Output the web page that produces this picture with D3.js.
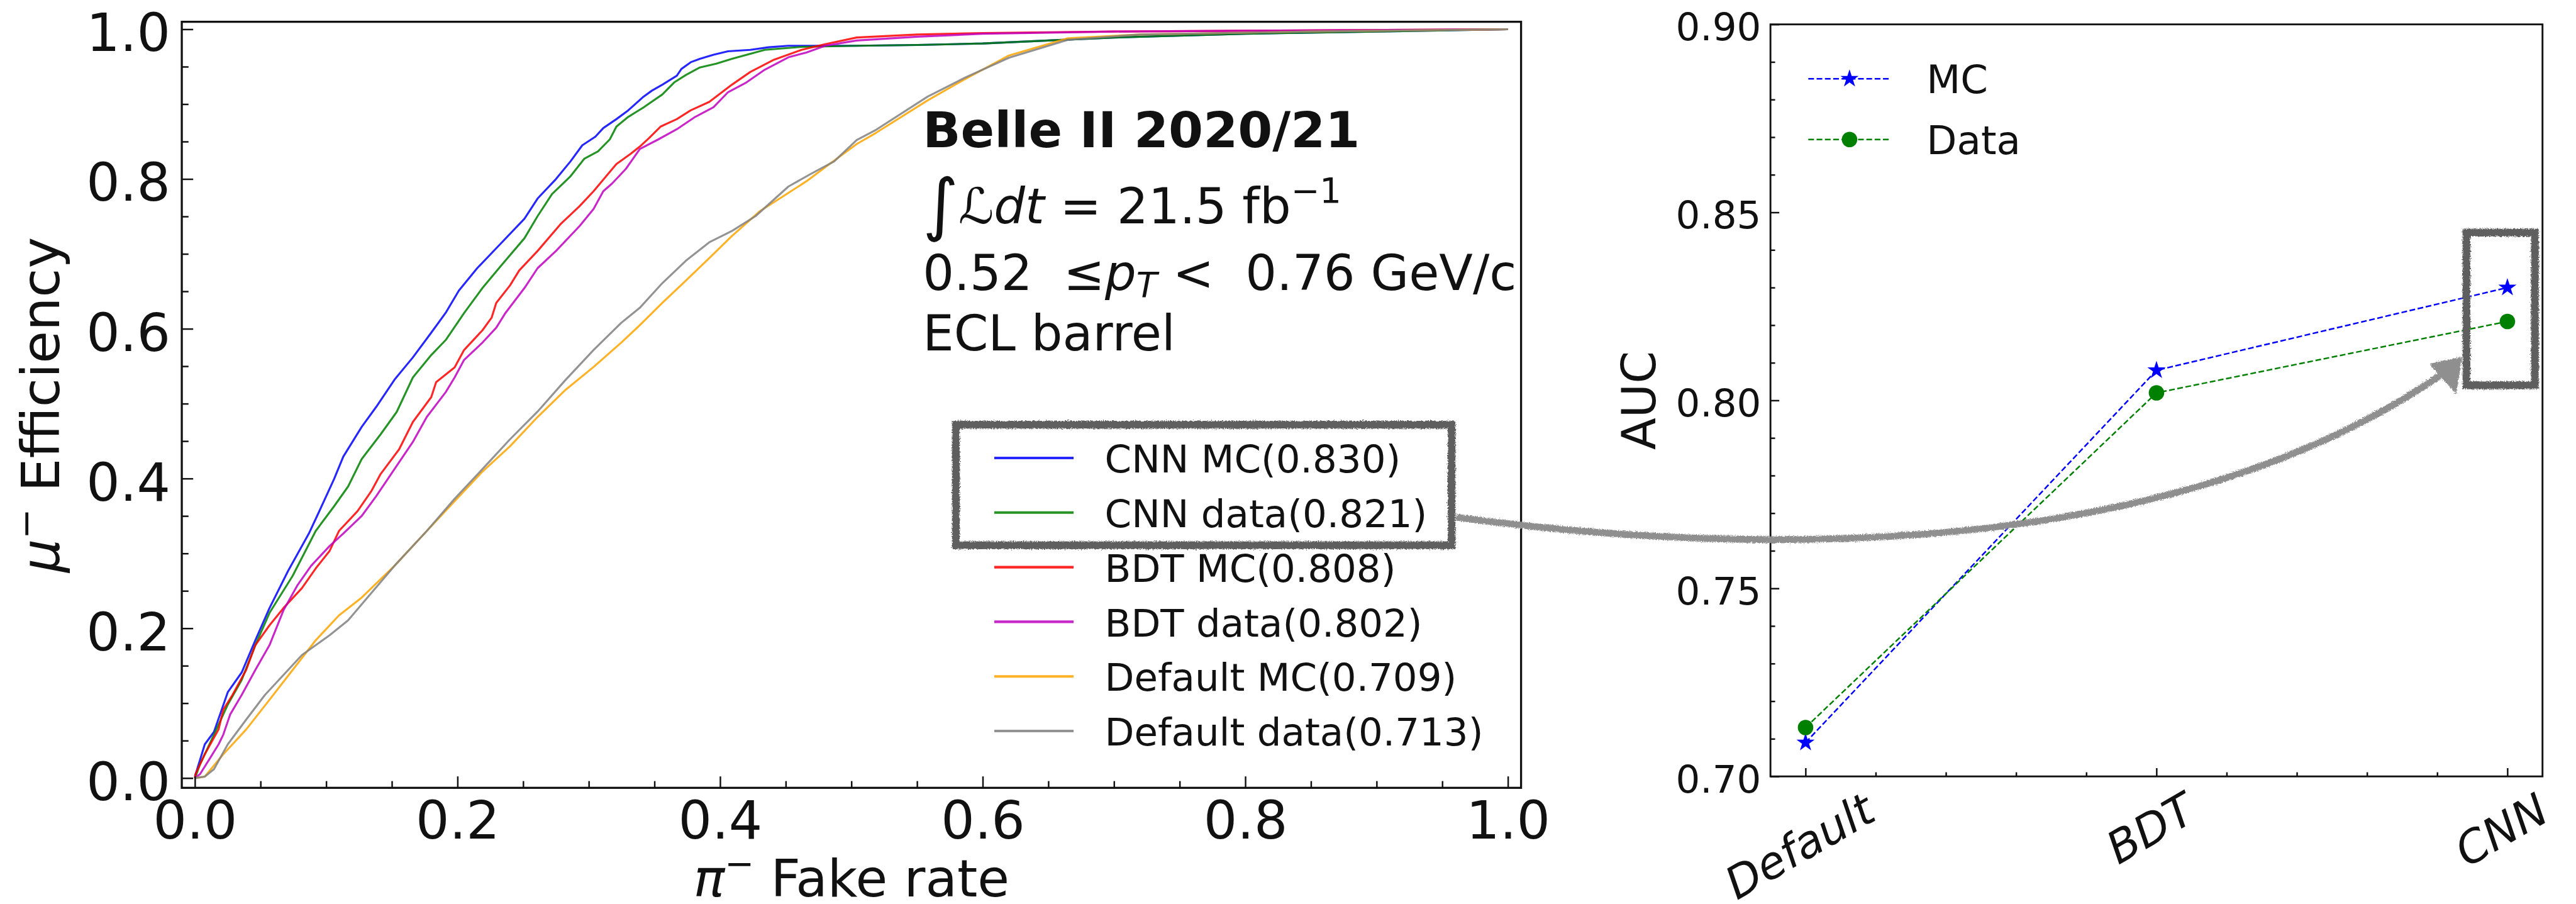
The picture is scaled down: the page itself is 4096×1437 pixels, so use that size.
<!DOCTYPE html>
<html>
<head>
<meta charset="utf-8">
<script src="https://cdn.jsdelivr.net/npm/d3@7"></script>
<style>
body{margin:0;background:#fff}
svg text{font-family:"DejaVu Sans",sans-serif;fill:#111}
</style>
</head>
<body>
<svg id="fig" width="4096" height="1437" viewBox="0 0 4967 1743"></svg>
<script>
// ROC curves (pi fake rate, mu efficiency)
const rocLabels = ["CNN MC(0.830)","CNN data(0.821)","BDT MC(0.808)","BDT data(0.802)","Default MC(0.709)","Default data(0.713)"];
const rocColors = ["#0000ff","#008000","#ff0000","#bf00bf","#ffa500","#808080"];

const cnnMcX = [0,0.0075,0.0145,0.025,0.0356,0.046,0.0568,0.0709,0.0868,0.0956,0.106,0.113,0.127,0.138,0.152,0.166,0.180,0.191,0.201,0.215,0.233,0.251,0.261,0.275,0.286,0.295,0.305,0.311,0.321,0.330,0.341,0.348,0.356,0.367,0.3705,0.3776,0.3846,0.395,0.406,0.423,0.437,0.452,0.473,0.504,0.55,0.6,0.65,0.7,0.8,0.9,1.0];
const cnnMcY = [0.002,0.045,0.0616,0.1146,0.141,0.184,0.227,0.2765,0.3266,0.3597,0.3994,0.4293,0.469,0.4955,0.532,0.5618,0.5949,0.6214,0.651,0.681,0.714,0.747,0.774,0.800,0.8235,0.845,0.8566,0.868,0.880,0.8917,0.909,0.918,0.926,0.938,0.947,0.956,0.9606,0.966,0.9706,0.9725,0.976,0.978,0.978,0.978,0.979,0.981,0.985,0.989,0.994,0.997,1.0];

const cnnDataX = [0,0.0039,0.0145,0.025,0.0356,0.046,0.0568,0.0744,0.092,0.106,0.1167,0.127,0.1414,0.1537,0.166,0.180,0.191,0.205,0.219,0.233,0.251,0.261,0.272,0.286,0.2965,0.307,0.316,0.321,0.330,0.342,0.356,0.365,0.374,0.3846,0.397,0.409,0.434,0.462,0.504,0.55,0.6,0.65,0.7,0.8,0.9,1.0];
const cnnDataY = [0,0.0185,0.058,0.098,0.131,0.1775,0.2206,0.270,0.330,0.363,0.3895,0.426,0.459,0.489,0.535,0.565,0.585,0.621,0.6545,0.684,0.721,0.7505,0.780,0.8036,0.827,0.837,0.853,0.870,0.883,0.896,0.913,0.929,0.939,0.949,0.954,0.9606,0.9725,0.9765,0.978,0.979,0.981,0.985,0.989,0.994,0.997,1.0];

const bdtMcX = [0,0.0004,0.0075,0.018,0.0216,0.0286,0.039,0.046,0.0568,0.0674,0.0815,0.092,0.1026,0.1097,0.1238,0.1343,0.1414,0.1555,0.166,0.180,0.1837,0.1978,0.205,0.219,0.226,0.2295,0.240,0.247,0.261,0.2789,0.293,0.3036,0.321,0.3317,0.3388,0.3458,0.3546,0.367,0.3776,0.3917,0.409,0.423,0.441,0.462,0.480,0.504,0.55,0.6,0.7,0.8,1.0];
const bdtMcY = [0,0.0053,0.0318,0.0649,0.0914,0.111,0.1444,0.1775,0.204,0.227,0.2537,0.280,0.3034,0.330,0.3564,0.383,0.406,0.439,0.4756,0.5088,0.5287,0.5485,0.5717,0.598,0.615,0.6346,0.658,0.678,0.704,0.7406,0.7638,0.7837,0.820,0.8334,0.8433,0.8546,0.870,0.880,0.8917,0.903,0.926,0.943,0.9593,0.9725,0.980,0.989,0.993,0.995,0.997,0.998,1.0];

const bdtDataX = [0,0.0039,0.011,0.018,0.0216,0.0268,0.0356,0.046,0.0568,0.0674,0.0779,0.0885,0.1026,0.113,0.127,0.138,0.152,0.166,0.1766,0.191,0.1978,0.205,0.219,0.2295,0.2366,0.251,0.261,0.275,0.293,0.3036,0.311,0.3177,0.3282,0.3388,0.353,0.367,0.381,0.395,0.406,0.420,0.434,0.452,0.4657,0.480,0.504,0.55,0.6,0.7,0.8,1.0];
const bdtDataY = [0,0.0053,0.0252,0.045,0.058,0.0848,0.111,0.1444,0.1775,0.2239,0.257,0.2835,0.310,0.3266,0.350,0.3763,0.4127,0.449,0.4823,0.5154,0.535,0.5585,0.5816,0.6015,0.6214,0.6545,0.681,0.704,0.7373,0.760,0.7837,0.794,0.8135,0.840,0.853,0.8665,0.883,0.896,0.916,0.929,0.946,0.9626,0.969,0.978,0.985,0.990,0.994,0.997,0.998,1.0];

const defMcX = [0,0.0075,0.0216,0.039,0.0568,0.0744,0.092,0.1097,0.127,0.152,0.1766,0.1978,0.219,0.240,0.261,0.2824,0.3036,0.3247,0.3388,0.356,0.374,0.3917,0.409,0.4304,0.448,0.4657,0.4833,0.504,0.519,0.558,0.586,0.62,0.665,0.72,0.85,1.0];
const defMcY = [0,0.002,0.0318,0.0649,0.1046,0.1444,0.184,0.2173,0.241,0.2835,0.330,0.3697,0.4094,0.4431,0.4823,0.5187,0.549,0.5816,0.6048,0.6346,0.6645,0.6943,0.724,0.7572,0.777,0.797,0.820,0.8467,0.862,0.905,0.933,0.965,0.988,0.993,0.997,1.0];

const defDataX = [0,0.0075,0.0145,0.025,0.039,0.0533,0.0674,0.0815,0.1026,0.1167,0.1343,0.152,0.1766,0.1978,0.219,0.240,0.261,0.2824,0.3036,0.3247,0.3388,0.356,0.374,0.3917,0.409,0.427,0.452,0.469,0.4868,0.504,0.519,0.558,0.586,0.62,0.665,0.72,0.85,1.0];
const defDataY = [0,0.002,0.0119,0.045,0.078,0.111,0.1377,0.1643,0.1908,0.2107,0.247,0.2835,0.330,0.373,0.4127,0.4525,0.4895,0.532,0.5717,0.608,0.628,0.661,0.691,0.7155,0.7307,0.7505,0.790,0.8068,0.8235,0.852,0.866,0.910,0.935,0.962,0.986,0.993,0.997,1.0];

const rocX = [cnnMcX, cnnDataX, bdtMcX, bdtDataX, defMcX, defDataX];
const rocY = [cnnMcY, cnnDataY, bdtMcY, bdtDataY, defMcY, defDataY];
const xTicksL = [0,0.2,0.4,0.6,0.8,1.0];
const yTicksL = [0,0.2,0.4,0.6,0.8,1.0];

// AUC summary
const aucCats = ["Default","BDT","CNN"];
const aucMC = [0.709,0.808,0.830];
const aucData = [0.713,0.802,0.821];
const yTicksR = [0.70,0.75,0.80,0.85,0.90];

const infoLines = ["Belle II 2020/21","21.5 fb","0.52\u00a0\u00a0\u2264","<\u00a0\u00a00.76 GeV/c","ECL barrel"];

const svg = d3.select("#fig");
const defs = svg.append("defs");

// sketchy look for the hand drawn highlight boxes and arrow
const rough = defs.append("filter").attr("id","rough").attr("filterUnits","userSpaceOnUse")
  .attr("x",0).attr("y",0).attr("width",4967).attr("height",1743);
rough.append("feTurbulence").attr("type","fractalNoise").attr("baseFrequency","0.45")
  .attr("numOctaves",2).attr("seed",4).attr("result","noise");
rough.append("feDisplacementMap").attr("in","SourceGraphic").attr("in2","noise")
  .attr("scale",8).attr("xChannelSelector","R").attr("yChannelSelector","G");

/* ---------- left panel: ROC ---------- */
const L = {x0:350, x1:2933, y0:42, y1:1519};
const xL = d3.scaleLinear().domain([-0.01,1.01]).range([L.x0,L.x1]);
const yL = d3.scaleLinear().domain([-0.013,1.01]).range([L.y1,L.y0]);
const gL = svg.append("g");

defs.append("clipPath").attr("id","clipL").append("rect")
  .attr("x",L.x0).attr("y",L.y0).attr("width",L.x1-L.x0).attr("height",L.y1-L.y0);

const rocLine = d3.line().x(d=>xL(d[0])).y(d=>yL(d[1]));
const curves = gL.append("g").attr("clip-path","url(#clipL)");
rocX.forEach((xs,i)=>{
  curves.append("path").datum(d3.zip(xs,rocY[i])).attr("d",rocLine)
    .attr("fill","none").attr("stroke",rocColors[i]).attr("stroke-opacity",0.85)
    .attr("stroke-width",3.8).attr("stroke-linejoin","round");
});

function styleAxis(g, fs){
  g.attr("font-size",null).attr("font-family",null).attr("color","#111");
  g.select(".domain").remove();
  g.selectAll("line").attr("stroke-width",3);
  g.selectAll("text").attr("font-size",fs);
}
const isMinor = (v,step)=>Math.abs(v/step-Math.round(v/step))>1e-6;

// major and minor ticks, pointing inwards
gL.append("g").attr("transform",`translate(${L.x0},0)`)
  .call(d3.axisLeft(yL).tickValues(yTicksL).tickSize(-22).tickSizeOuter(0).tickPadding(22).tickFormat(d3.format(".1f")))
  .call(g=>styleAxis(g,102)).call(g=>g.selectAll("text").attr("dy","0.41em"));
gL.append("g").attr("transform",`translate(${L.x0},0)`)
  .call(d3.axisLeft(yL).tickValues(d3.range(0,1.001,0.05).filter(v=>isMinor(v,0.2))).tickSize(-13).tickSizeOuter(0).tickFormat(""))
  .call(g=>styleAxis(g,102));
gL.append("g").attr("transform",`translate(0,${L.y1})`)
  .call(d3.axisBottom(xL).tickValues(xTicksL).tickSize(-22).tickSizeOuter(0).tickPadding(26).tickFormat(d3.format(".1f")))
  .call(g=>styleAxis(g,102));
gL.append("g").attr("transform",`translate(0,${L.y1})`)
  .call(d3.axisBottom(xL).tickValues(d3.range(0,1.001,0.05).filter(v=>isMinor(v,0.2))).tickSize(-13).tickSizeOuter(0).tickFormat(""))
  .call(g=>styleAxis(g,102));

gL.append("rect").attr("x",L.x0).attr("y",L.y0).attr("width",L.x1-L.x0).attr("height",L.y1-L.y0)
  .attr("fill","none").attr("stroke","#111").attr("stroke-width",4);

// axis titles
const xt = gL.append("text").attr("x",(L.x0+L.x1)/2).attr("y",1728).attr("text-anchor","middle").attr("font-size",100);
xt.append("tspan").attr("font-style","italic").text("\u03c0");
xt.append("tspan").attr("font-size",68).attr("dy",-40).text("\u2212");
xt.append("tspan").attr("dy",40).text(" Fake rate");
const yt = gL.append("text").attr("transform",`translate(113,${(L.y0+L.y1)/2}) rotate(-90)`)
  .attr("text-anchor","middle").attr("font-size",102);
yt.append("tspan").attr("font-style","italic").text("\u03bc");
yt.append("tspan").attr("font-size",70).attr("dy",-40).text("\u2212");
yt.append("tspan").attr("dy",40).text(" Efficiency");

// info text
const info = gL.append("g");
info.append("text").attr("x",1779).attr("y",284).attr("font-size",96).attr("font-weight","bold").text(infoLines[0]);
const t2 = info.append("text").attr("x",1779).attr("y",431).attr("font-size",95);
t2.append("tspan").attr("font-size",132).attr("dy",8).text("\u222b");
t2.append("tspan").attr("dy",-8).attr("font-style","italic").text("\u2112");
t2.append("tspan").attr("font-style","italic").text("dt");
t2.append("tspan").text("\u00a0=\u00a0" + infoLines[1]);
t2.append("tspan").attr("font-size",66).attr("dy",-40).text("\u22121");
const t3 = info.append("text").attr("x",1779).attr("y",559).attr("font-size",95);
t3.append("tspan").text(infoLines[2]);
t3.append("tspan").attr("font-style","italic").text("p");
t3.append("tspan").attr("font-style","italic").attr("font-size",66).attr("dy",14).text("T");
t3.append("tspan").attr("dy",-14).text("\u00a0" + infoLines[3]);
info.append("text").attr("x",1779).attr("y",676).attr("font-size",95).text(infoLines[4]);

// legend
const legL = {x:1917, len:153, y:883, dy:105.3};
rocLabels.forEach((lab,i)=>{
  const y = legL.y + i*legL.dy;
  gL.append("line").attr("x1",legL.x).attr("x2",legL.x+legL.len).attr("y1",y).attr("y2",y)
    .attr("stroke",rocColors[i]).attr("stroke-opacity",0.85).attr("stroke-width",5);
  gL.append("text").attr("x",legL.x+213).attr("y",y+28).attr("font-size",74).text(lab);
});

/* ---------- right panel: AUC ---------- */
const R = {x0:3414, x1:4903, y0:47, y1:1497};
const xR = d3.scaleLinear().domain([-0.1,2.1]).range([R.x0,R.x1]);
const yR = d3.scaleLinear().domain([0.70,0.90]).range([R.y1,R.y0]);
const gR = svg.append("g");

gR.append("g").attr("transform",`translate(${R.x0},0)`)
  .call(d3.axisLeft(yR).tickValues(yTicksR).tickSize(-17).tickSizeOuter(0).tickPadding(18).tickFormat(d3.format(".2f")))
  .call(g=>styleAxis(g,74)).call(g=>g.selectAll("text").attr("dy","0.41em"));
gR.append("g").attr("transform",`translate(${R.x0},0)`)
  .call(d3.axisLeft(yR).tickValues(d3.range(0.70,0.9001,0.01).filter(v=>isMinor(v,0.05))).tickSize(-9).tickSizeOuter(0).tickFormat(""))
  .call(g=>styleAxis(g,74));
gR.append("g").attr("transform",`translate(0,${R.y1})`)
  .call(d3.axisBottom(xR).tickValues([0,1,2]).tickSize(-16).tickSizeOuter(0).tickFormat(""))
  .call(g=>styleAxis(g,74));
gR.append("g").attr("transform",`translate(0,${R.y1})`)
  .call(d3.axisBottom(xR).tickValues(d3.range(0,2.001,0.2).filter(v=>isMinor(v,1))).tickSize(-8).tickSizeOuter(0).tickFormat(""))
  .call(g=>styleAxis(g,74));

aucCats.forEach((c,i)=>{
  const t = gR.append("text").attr("font-size",86).attr("font-style","italic")
    .attr("text-anchor","middle").attr("dy","0.36em").text(c);
  const w = t.node().getComputedTextLength(), h = 86*0.95;
  const a = Math.PI/6;
  const bh = w*Math.sin(a) + h*Math.cos(a);
  t.attr("transform",`translate(${xR(i)-12},${R.y1 + 20 + bh/2}) rotate(-30)`);
});

gR.append("rect").attr("x",R.x0).attr("y",R.y0).attr("width",R.x1-R.x0).attr("height",R.y1-R.y0)
  .attr("fill","none").attr("stroke","#111").attr("stroke-width",3.5);

gR.append("text").attr("transform",`translate(3192,${(R.y0+R.y1)/2}) rotate(-90)`)
  .attr("text-anchor","middle").attr("font-size",90).text("AUC");

const aucLine = d3.line().x((d,i)=>xR(i)).y(d=>yR(d));
const series = [
  {vals:aucMC, color:"#0000ff", sym:d3.symbolStar, size:380, name:"MC"},
  {vals:aucData, color:"#008000", sym:d3.symbolCircle, size:700, name:"Data"}
];
series.forEach(s=>{
  gR.append("path").attr("d",aucLine(s.vals)).attr("fill","none").attr("stroke",s.color)
    .attr("stroke-width",3).attr("stroke-dasharray","11,5");
  gR.selectAll(null).data(s.vals).join("path")
    .attr("d",d3.symbol(s.sym,s.size))
    .attr("transform",(d,i)=>`translate(${xR(i)},${yR(d)})`).attr("fill",s.color);
});

// legend
const legR = {x:3487, len:159, y:152, dy:117};
series.forEach((s,i)=>{
  const y = legR.y + i*legR.dy;
  gR.append("line").attr("x1",legR.x).attr("x2",legR.x+legR.len).attr("y1",y).attr("y2",y)
    .attr("stroke",s.color).attr("stroke-width",3).attr("stroke-dasharray","11,5");
  gR.append("path").attr("d",d3.symbol(s.sym,s.size)).attr("transform",`translate(${legR.x+legR.len/2},${y})`).attr("fill",s.color);
  gR.append("text").attr("x",legR.x+228).attr("y",y+28).attr("font-size",76).text(s.name);
});

/* ---------- hand drawn highlight ---------- */
const ann = svg.append("g").attr("filter","url(#rough)");
const boxL = {x0:legL.x-74, x1:2799, y0:legL.y-64, y1:legL.y+legL.dy+63};
const boxR = {x0:xR(2)-79, x1:xR(2)+53, y0:yR(d3.max([aucMC[2],aucData[2]]))-106, y1:yR(d3.min([aucMC[2],aucData[2]]))+123};
[boxL, boxR].forEach(b=>{
  ann.append("rect").attr("x",b.x0).attr("y",b.y0).attr("width",b.x1-b.x0).attr("height",b.y1-b.y0)
    .attr("fill","none").attr("stroke","#5f5f5f").attr("stroke-width",15);
});
const p0 = [boxL.x1+9, legL.y+legL.dy+9];
const p3 = [boxR.x0-14, boxR.y1-45];
const arrow = d3.path();
arrow.moveTo(p0[0],p0[1]);
arrow.bezierCurveTo(3500,1090,4250,1050,p3[0]-20,p3[1]+14);
ann.append("path").attr("d",arrow.toString()).attr("fill","none").attr("stroke","#8f8f8f").attr("stroke-width",13);
ann.append("path")
  .attr("d",`M${p3[0]+6},${p3[1]-10} L${p3[0]-58},${p3[1]+4} L${p3[0]-6},${p3[1]+62} Z`)
  .attr("fill","#8f8f8f");
</script>
</body>
</html>
